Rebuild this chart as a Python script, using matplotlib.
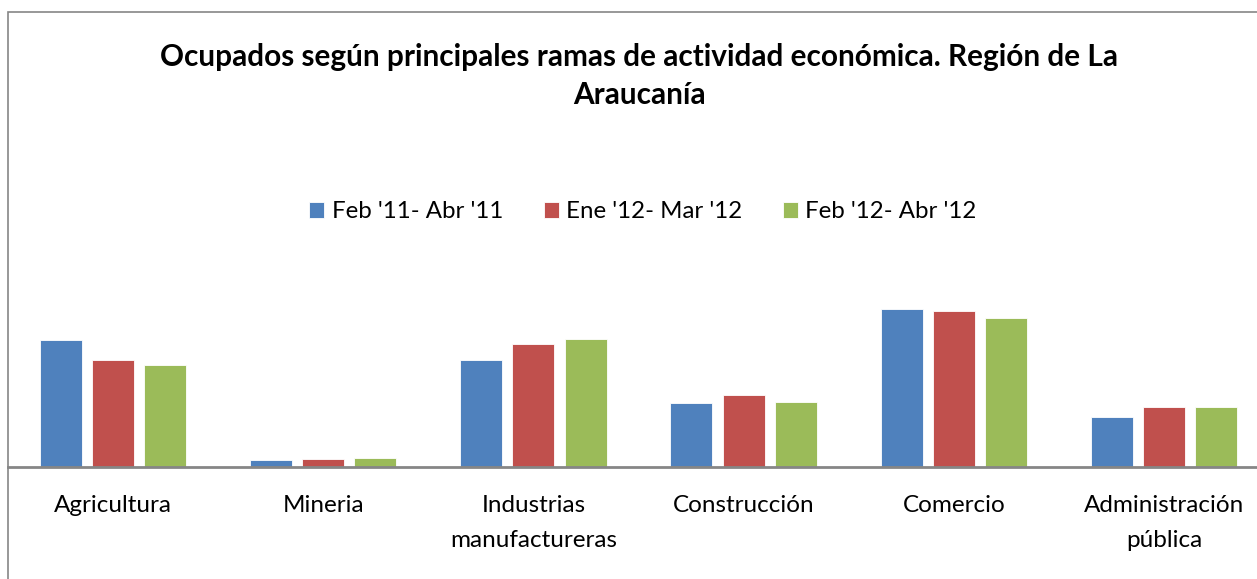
import matplotlib.pyplot as plt
import numpy as np
from matplotlib.patches import Rectangle

categorias = ['Agricultura', 'Mineria', 'Industrias\nmanufactureras', 'Construcción',
              'Comercio', 'Administración\npública']
series = ["Feb '11- Abr '11", "Ene '12- Mar '12", "Feb '12- Abr '12"]
feb_abr_11 = [63.5, 3.3, 53.5, 32.0, 79.0, 25.0]
ene_mar_12 = [53.5, 4.0, 61.5, 36.0, 78.0, 30.0]
feb_abr_12 = [51.0, 4.5, 64.0, 32.5, 74.5, 30.0]
colores = ['#4f81bd', '#c0504d', '#9bbb59']

plt.rcParams['font.family'] = ['Lato', 'DejaVu Sans']

W, H = 1257, 579
fig = plt.figure(figsize=(W / 100, H / 100), dpi=100)

# borde del area del grafico (recortado a la derecha y abajo)
fig.patches.append(Rectangle((8 / W, -0.2), 2, 1.2 - 12 / H, transform=fig.transFigure,
                             fill=False, edgecolor='#868686', linewidth=1.2))

ax = fig.add_axes([8 / W, 1 - 467 / H, (1269 - 8) / W, (467 - 260) / H])
x = np.arange(len(categorias))
ancho = 0.2
sep = 0.248
for i, (vals, nom) in enumerate(zip([feb_abr_11, ene_mar_12, feb_abr_12], series)):
    ax.bar(x + (i - 1) * sep, vals, ancho, color=colores[i], label=nom,
           edgecolor='white', linewidth=0.6)

ax.set_xlim(-0.5, len(categorias) - 0.5)
ax.set_ylim(0, 103.5)
ax.set_xticks(x)
ax.set_xticklabels(categorias, fontsize=17.5, linespacing=1.8)
ax.tick_params(axis='x', length=0, pad=20.5)
ax.set_yticks([])
for s in ['top', 'right', 'left']:
    ax.spines[s].set_visible(False)
ax.spines['bottom'].set_color('#868686')
ax.spines['bottom'].set_linewidth(2)

fig.text(639 / W, 1 - 76 / H, 'Ocupados según principales ramas de actividad económica. Región de La\nAraucanía',
         ha='center', va='center', fontsize=21.4, fontweight='bold', linespacing=1.43)

ax.legend(loc='center', bbox_to_anchor=(643 / W, 1 - 212 / H), bbox_transform=fig.transFigure,
          ncol=3, frameon=False, fontsize=17.3, handlelength=0.62, handleheight=0.62,
          handletextpad=0.3, columnspacing=1.7)

fig.savefig('out.png', dpi=100)
